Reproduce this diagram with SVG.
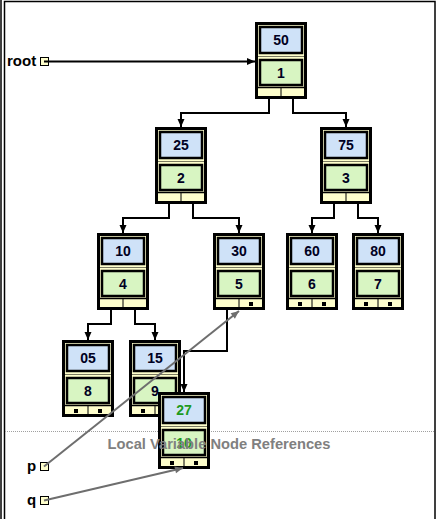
<svg xmlns="http://www.w3.org/2000/svg" width="448" height="519" viewBox="0 0 448 519">
<style>
.outer{fill:#FFFFCC;stroke:#000;stroke-width:3}
.kbox{fill:#CFE2F8;stroke:#000;stroke-width:2.5}
.vbox{fill:#D8F5C2;stroke:#000;stroke-width:2.5}
.sep{stroke:#7a7a60;stroke-width:1}
.txt{font-family:"Liberation Sans",Arial,sans-serif;font-weight:bold;font-size:14px;text-anchor:middle;fill:#000022}
.g .txt{fill:#1E9A1E}
.null{fill:#000}
.lbl{font-family:"Liberation Sans",Arial,sans-serif;font-weight:bold;font-size:15px;fill:#000}
.var{fill:#FFFFCC;stroke:#000;stroke-width:1}
.link{fill:none;stroke:#000;stroke-width:2}
.ref{fill:none;stroke:#6e6e6e;stroke-width:2}
</style>
<defs>
<marker id="ah" markerUnits="userSpaceOnUse" markerWidth="10" markerHeight="10" viewBox="0 0 10 10" refX="9" refY="5" orient="auto">
<path d="M1,1.5 L9,5 L1,8.5 Z" fill="#000"/>
</marker>
<marker id="ahg" markerUnits="userSpaceOnUse" markerWidth="10" markerHeight="10" viewBox="0 0 10 10" refX="9" refY="5" orient="auto">
<path d="M1,1.5 L9,5 L1,8.5 Z" fill="#6e6e6e"/>
</marker>
<g id="nodebase">
<rect class="outer" x="1.5" y="1.5" width="49" height="74"/>
<line class="sep" x1="3" y1="34.5" x2="49" y2="34.5"/>
<rect class="kbox" x="5" y="5" width="42" height="26"/>
<rect class="vbox" x="5" y="38" width="42" height="25"/>
<line x1="3" y1="65.5" x2="49" y2="65.5" stroke="#000" stroke-width="1.5"/>
<line x1="26" y1="66" x2="26" y2="75" stroke="#000" stroke-width="1"/>
</g>
</defs>
<rect x="0" y="0" width="448" height="519" fill="#fff"/>
<line x1="1" y1="0" x2="1" y2="519" stroke="#000" stroke-width="1.5"/>
<rect x="4.5" y="1.5" width="430.5" height="540" fill="#fff" stroke="#000" stroke-width="1.5"/>
<line x1="5" y1="431.5" x2="435" y2="431.5" stroke="#a0a0a0" stroke-width="1" stroke-dasharray="1,1"/>

<g id="root-var">
<text class="lbl" x="7" y="66">root</text>
<rect class="var" x="40.5" y="57.5" width="8" height="8"/>
</g>
<g id="p-var">
<text class="lbl" x="27" y="471">p</text>
<rect class="var" x="40.5" y="462.5" width="8" height="8"/>
</g>
<g id="q-var">
<text class="lbl" x="27" y="505">q</text>
<rect class="var" x="40.5" y="496.5" width="8" height="8"/>
</g>

<g id="n50" transform="translate(255,22)"><use href="#nodebase"/><text class="txt" x="26" y="23">50</text><text class="txt" x="26" y="56">1</text></g>
<g id="n25" transform="translate(155,127)"><use href="#nodebase"/><text class="txt" x="26" y="23">25</text><text class="txt" x="26" y="56">2</text></g>
<g id="n75" transform="translate(320,127)"><use href="#nodebase"/><text class="txt" x="26" y="23">75</text><text class="txt" x="26" y="56">3</text></g>
<g id="n10" transform="translate(97,233)"><use href="#nodebase"/><text class="txt" x="26" y="23">10</text><text class="txt" x="26" y="56">4</text></g>
<g id="n30" transform="translate(213,233)"><use href="#nodebase"/><text class="txt" x="26" y="23">30</text><text class="txt" x="26" y="56">5</text><rect class="null" x="36" y="69" width="4" height="4"/></g>
<g id="n60" transform="translate(286,233)"><use href="#nodebase"/><text class="txt" x="26" y="23">60</text><text class="txt" x="26" y="56">6</text><rect class="null" x="12" y="69" width="4" height="4"/><rect class="null" x="36" y="69" width="4" height="4"/></g>
<g id="n80" transform="translate(352,233)"><use href="#nodebase"/><text class="txt" x="26" y="23">80</text><text class="txt" x="26" y="56">7</text><rect class="null" x="12" y="69" width="4" height="4"/><rect class="null" x="36" y="69" width="4" height="4"/></g>
<g id="n05" transform="translate(62,340)"><use href="#nodebase"/><text class="txt" x="26" y="23">05</text><text class="txt" x="26" y="56">8</text><rect class="null" x="12" y="69" width="4" height="4"/><rect class="null" x="36" y="69" width="4" height="4"/></g>
<g id="n15" transform="translate(129,340)"><use href="#nodebase"/><text class="txt" x="26" y="23">15</text><text class="txt" x="26" y="56">9</text><rect class="null" x="12" y="69" width="4" height="4"/><rect class="null" x="36" y="69" width="4" height="4"/></g>
<g id="n27" class="g" transform="translate(158,392)"><use href="#nodebase"/><text class="txt" x="26" y="23">27</text><text class="txt" x="26" y="56">10</text><rect class="null" x="12" y="69" width="4" height="4"/><rect class="null" x="36" y="69" width="4" height="4"/></g>

<g id="connectors">
<path class="link" d="M44,61.5 H255" marker-end="url(#ah)"/>
<path class="link" d="M269,97 V113 H181 V127" marker-end="url(#ah)"/>
<path class="link" d="M293,97 V113 H346 V127" marker-end="url(#ah)"/>
<path class="link" d="M169,202 V218 H123 V233" marker-end="url(#ah)"/>
<path class="link" d="M193,202 V218 H239 V233" marker-end="url(#ah)"/>
<path class="link" d="M334,202 V218 H312 V233" marker-end="url(#ah)"/>
<path class="link" d="M358,202 V218 H378 V233" marker-end="url(#ah)"/>
<path class="link" d="M111,308 V324 H88 V340" marker-end="url(#ah)"/>
<path class="link" d="M135,308 V324 H155 V340" marker-end="url(#ah)"/>
<path class="link" d="M227,308 V351 H184 V392" marker-end="url(#ah)"/>
<path class="ref" d="M44,466.5 L239,311" marker-end="url(#ahg)"/>
<path class="ref" d="M44,500.5 L183,468" marker-end="url(#ahg)"/>
</g>
<text x="219" y="449" font-family="'Liberation Sans',Arial,sans-serif" font-weight="bold" font-size="14.7" fill="#808080" text-anchor="middle">Local Variable Node References</text>
</svg>
